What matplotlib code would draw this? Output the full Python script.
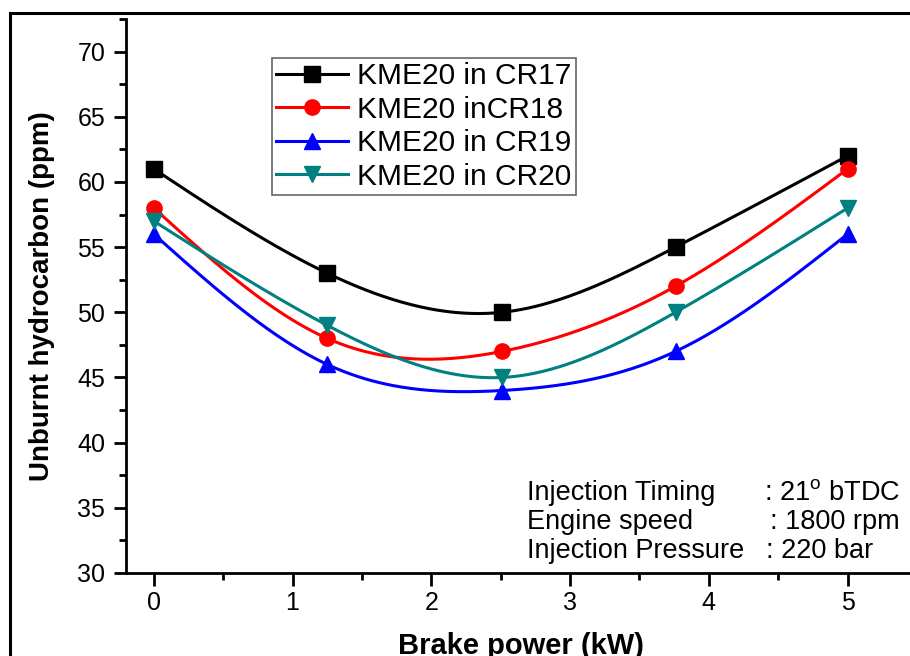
import numpy as np
import matplotlib.pyplot as plt
from matplotlib.patches import Rectangle
from matplotlib.ticker import MultipleLocator

plt.rcParams['font.family'] = ['Liberation Sans', 'DejaVu Sans']
plt.rcParams['mathtext.fontset'] = 'custom'
plt.rcParams['mathtext.rm'] = 'Liberation Sans'

# data
brake_power = [0, 1.25, 2.51, 3.76, 5.0]
hc_cr17 = [61, 53, 50, 55, 62]
hc_cr18 = [58, 48, 47, 52, 61]
hc_cr19 = [56, 46, 44, 47, 56]
hc_cr20 = [57, 49, 45, 50, 58]

labels = ['KME20 in CR17', 'KME20 inCR18', 'KME20 in CR19', 'KME20 in CR20']
colors = ['black', 'red', 'blue', '#008080']
markers = ['s', 'o', '^', 'v']


# natural cubic spline, like the smooth lines in Origin
def natural_spline(x, y, xs):
    x = np.asarray(x, float)
    y = np.asarray(y, float)
    n = len(x)
    h = np.diff(x)
    A = np.zeros((n, n))
    b = np.zeros(n)
    A[0, 0] = 1
    A[-1, -1] = 1
    for i in range(1, n - 1):
        A[i, i - 1] = h[i - 1]
        A[i, i] = 2 * (h[i - 1] + h[i])
        A[i, i + 1] = h[i]
        b[i] = 6 * ((y[i + 1] - y[i]) / h[i] - (y[i] - y[i - 1]) / h[i - 1])
    M = np.linalg.solve(A, b)
    out = np.empty_like(xs)
    for k, xv in enumerate(xs):
        i = min(max(np.searchsorted(x, xv) - 1, 0), n - 2)
        t1 = x[i + 1] - xv
        t0 = xv - x[i]
        out[k] = (M[i] * t1 ** 3 / (6 * h[i]) + M[i + 1] * t0 ** 3 / (6 * h[i])
                  + (y[i] / h[i] - M[i] * h[i] / 6) * t1
                  + (y[i + 1] / h[i] - M[i + 1] * h[i] / 6) * t0)
    return out


fig = plt.figure(figsize=(9.1, 6.56), dpi=100)
W, H = 910, 656
ax = fig.add_axes([126 / W, 1 - 573 / H, (917 - 126) / W, (573 - 19) / H])

# outer frame around the figure (cut at right and bottom)
fig.patches.append(Rectangle((10 / W, -0.1), 1.2, 1 - 13 / H + 0.1, transform=fig.transFigure,
                             fill=False, edgecolor='black', linewidth=2.2, clip_on=False))

xs = np.linspace(brake_power[0], brake_power[-1], 300)
for vals, lab, c, m in zip([hc_cr17, hc_cr18, hc_cr19, hc_cr20], labels, colors, markers):
    ax.plot(xs, natural_spline(brake_power, vals, xs), color=c, lw=2.2)
    ax.plot(brake_power, vals, linestyle='none', marker=m, color=c, markersize=11)
    ax.plot([], [], color=c, lw=2.2, marker=m, markersize=11, label=lab)

ax.set_xlim(-0.2, 5.5)
ax.set_ylim(30, 72.5)
ax.xaxis.set_major_locator(MultipleLocator(1))
ax.xaxis.set_minor_locator(MultipleLocator(0.5))
ax.yaxis.set_major_locator(MultipleLocator(5))
ax.yaxis.set_minor_locator(MultipleLocator(2.5))

ax.spines['top'].set_visible(False)
ax.spines['right'].set_visible(False)
for s in ['left', 'bottom']:
    ax.spines[s].set_linewidth(2)
ax.tick_params(which='major', direction='out', length=9, width=2, labelsize=18)
ax.tick_params(which='minor', direction='out', length=5, width=2)
ax.tick_params(axis='y', which='major', pad=6)
ax.tick_params(axis='x', which='major', pad=4)

ax.set_xlabel('Brake power (kW)', fontsize=21, fontweight='bold', labelpad=12)
ax.set_ylabel('Unburnt hydrocarbon (ppm)', fontsize=20, fontweight='bold', labelpad=16)

leg = ax.legend(loc='upper left', bbox_to_anchor=((272 - 126) / 791, 1 - (58 - 19) / 554),
                fontsize=21.5, frameon=True, fancybox=False, handlelength=2.4,
                borderpad=0.15, labelspacing=0.18, handletextpad=0.3, borderaxespad=0)
leg.get_frame().set_edgecolor('#404040')
leg.get_frame().set_linewidth(1.2)

# conditions text
names = ['Injection Timing', 'Engine speed', 'Injection Pressure']
values = [r': 21$^\mathregular{o}$ bTDC', ': 1800 rpm', ': 220 bar']
name_y = [493, 522, 551]
value_x = [764, 770, 766]
for n, v, y, vx in zip(names, values, name_y, value_x):
    fig.text(527 / W, 1 - y / H, n, fontsize=19.5, va='center', ha='left')
    fig.text(vx / W, 1 - y / H, v, fontsize=19.5, va='center', ha='left')

fig.savefig('out.png', dpi=100)
